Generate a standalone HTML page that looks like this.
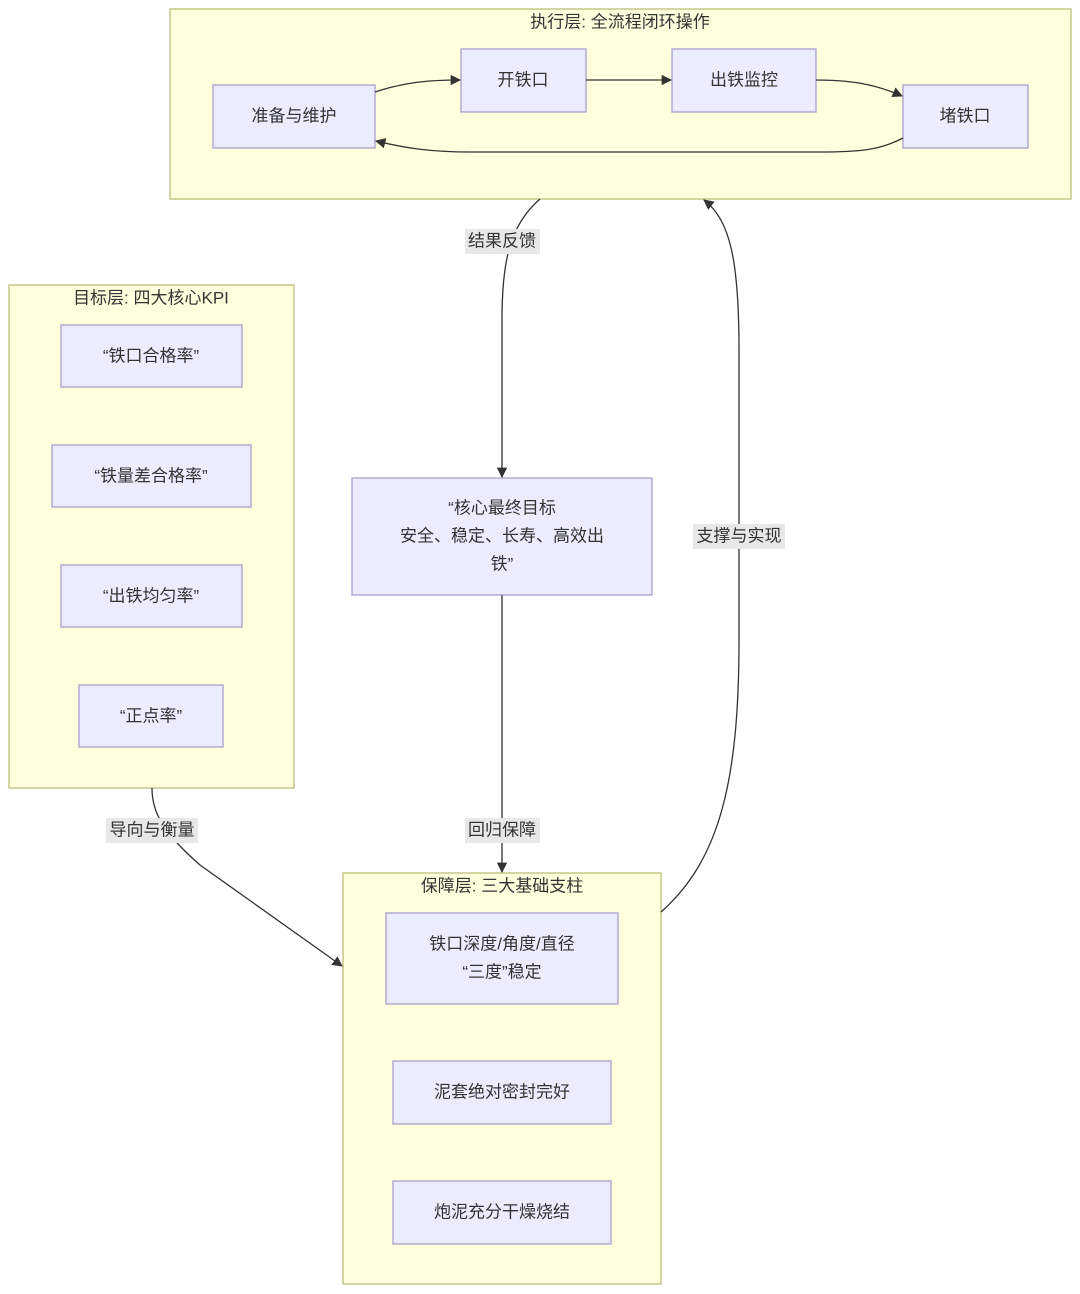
<!DOCTYPE html>
<html><head><meta charset="utf-8"><style>
html,body{margin:0;padding:0;background:#fff;}
svg{display:block;}
text{font-family:"Liberation Sans","Noto Sans CJK SC",sans-serif;fill:#333;font-size:17px;text-anchor:middle;dominant-baseline:central;}
.cl{fill:#ffffde;stroke:#b8b870;stroke-width:1.2;}
.nd{fill:#ececff;stroke:#a99fd0;stroke-width:1.3;}
.e{fill:none;stroke:#333;stroke-width:1.3;}
.lb{fill:#e8e8e8;}
</style></head><body>
<svg width="1080" height="1294" viewBox="0 0 1080 1294" xmlns="http://www.w3.org/2000/svg">
<defs><marker id="a" viewBox="0 0 10 10" refX="9" refY="5" markerWidth="8" markerHeight="8" orient="auto"><path d="M0,0L10,5L0,10z" fill="#333"/></marker></defs>
<!-- clusters -->
<rect class="cl" x="170" y="9" width="901" height="190"/>
<text x="620" y="22">执行层: 全流程闭环操作</text>
<rect class="cl" x="9" y="285" width="285" height="503"/>
<text x="151" y="298">目标层: 四大核心KPI</text>
<rect class="cl" x="343" y="873" width="318" height="411"/>
<text x="502" y="886">保障层: 三大基础支柱</text>
<!-- exec nodes -->
<rect class="nd" x="213" y="85" width="162" height="63"/><text x="294" y="116">准备与维护</text>
<rect class="nd" x="461" y="49" width="125" height="63"/><text x="523" y="80">开铁口</text>
<rect class="nd" x="672" y="49" width="144" height="63"/><text x="744" y="80">出铁监控</text>
<rect class="nd" x="903" y="85" width="125" height="63"/><text x="965" y="116">堵铁口</text>
<!-- KPI nodes -->
<rect class="nd" x="61" y="325" width="181" height="62"/><text x="151" y="356">“铁口合格率”</text>
<rect class="nd" x="52" y="445" width="199" height="62"/><text x="151" y="476">“铁量差合格率”</text>
<rect class="nd" x="61" y="565" width="181" height="62"/><text x="151" y="596">“出铁均匀率”</text>
<rect class="nd" x="79" y="685" width="144" height="62"/><text x="151" y="716">“正点率”</text>
<!-- core -->
<rect class="nd" x="352" y="478" width="300" height="117"/>
<text x="502" y="508">“核心最终目标</text>
<text x="502" y="536">安全、稳定、长寿、高效出</text>
<text x="502" y="564">铁”</text>
<!-- guarantee nodes -->
<rect class="nd" x="386" y="913" width="232" height="91"/>
<text x="502" y="944">铁口深度/角度/直径</text>
<text x="502" y="972">“三度”稳定</text>
<rect class="nd" x="393" y="1061" width="218" height="63"/><text x="502" y="1092">泥套绝对密封完好</text>
<rect class="nd" x="393" y="1181" width="218" height="63"/><text x="502" y="1212">炮泥充分干燥烧结</text>
<!-- edges -->
<path class="e" marker-end="url(#a)" d="M375,92 C405,82 430,80 460,80"/>
<path class="e" marker-end="url(#a)" d="M586,80 L671,80"/>
<path class="e" marker-end="url(#a)" d="M816,80 C850,80 875,84 902,96"/>
<path class="e" marker-end="url(#a)" d="M903,138 C880,150 860,152 820,152 L470,152 C430,152 405,148 376,141"/>
<path class="e" marker-end="url(#a)" d="M540,199 C510,225 502,260 502,320 L502,477"/>
<path class="e" marker-end="url(#a)" d="M502,595 L502,872"/>
<path class="e" marker-end="url(#a)" d="M152,788 C152,810 160,830 200,865 L342,966"/>
<path class="e" marker-end="url(#a)" d="M661,912 C720,860 739,780 739,640 L739,350 C739,260 730,220 704,200"/>
<!-- edge labels -->
<rect class="lb" x="465" y="229" width="75" height="25"/><text x="502" y="241">结果反馈</text>
<rect class="lb" x="465" y="818" width="75" height="25"/><text x="502" y="830">回归保障</text>
<rect class="lb" x="106" y="818" width="92" height="25"/><text x="152" y="830">导向与衡量</text>
<rect class="lb" x="693" y="524" width="92" height="25"/><text x="739" y="536">支撑与实现</text>
</svg>
</body></html>
